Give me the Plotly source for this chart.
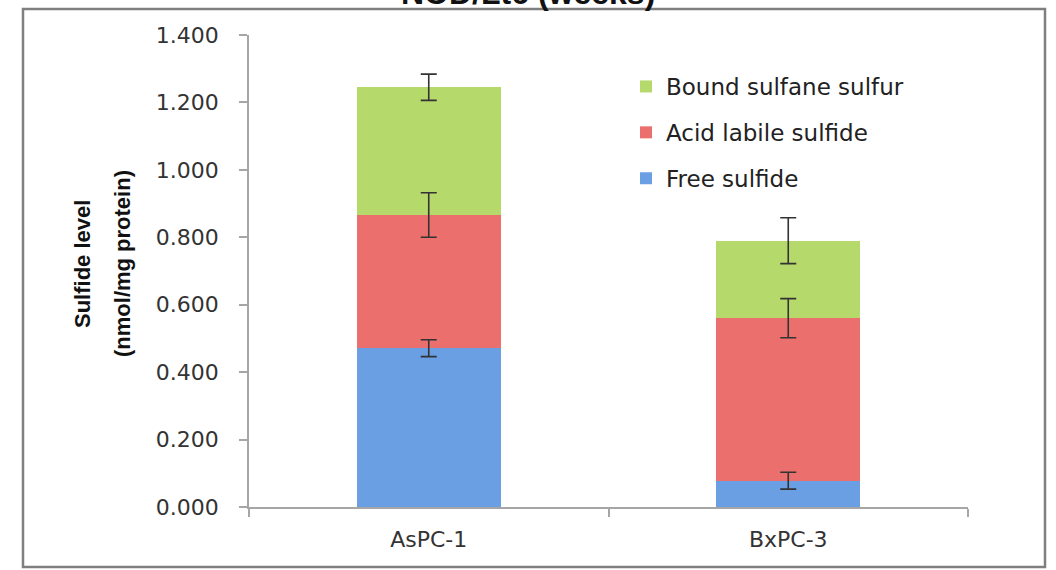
import plotly.graph_objects as go

categories = ["AsPC-1", "BxPC-3"]
free_sulfide = [0.471, 0.078]
free_err = [0.025, 0.025]
acid_labile = [0.395, 0.482]
acid_err = [0.066, 0.058]
bound_sulfane = [0.379, 0.230]
bound_err = [0.039, 0.068]
y_ticks = [0.0, 0.2, 0.4, 0.6, 0.8, 1.0, 1.2, 1.4]

series = [
    ("Free sulfide", free_sulfide, free_err, "#6a9fe4", 3),
    ("Acid labile sulfide", acid_labile, acid_err, "#eb6f6c", 2),
    ("Bound sulfane sulfur", bound_sulfane, bound_err, "#b6d96c", 1),
]

fig = go.Figure()
for name, vals, errs, color, rank in series:
    fig.add_trace(go.Bar(
        x=categories, y=vals, name=name, legendgroup=name, legendrank=rank,
        marker=dict(color=color, line=dict(width=0)),
        width=0.4,
    ))

# error bars drawn on top of all bar segments, at stacked tops
running = [0.0] * len(categories)
for name, vals, errs, color, rank in series:
    running = [r + v for r, v in zip(running, vals)]
    fig.add_trace(go.Scatter(
        x=categories, y=list(running), mode="markers",
        marker=dict(size=1, opacity=0),
        showlegend=False, hoverinfo="skip",
        error_y=dict(type="data", array=errs, visible=True,
                     color="#333333", thickness=1.6, width=8),
    ))

W, H = 1056, 570
L, R, T, B = 249, 88, 35, 63
pw, ph = W - L - R, H - T - B

def px(xp):
    return (xp - L) / pw

def py(yp):
    return (H - B - yp) / ph

fig.update_layout(
    width=W, height=H,
    margin=dict(l=L, r=R, t=T, b=B, pad=0),
    barmode="stack",
    paper_bgcolor="white", plot_bgcolor="white",
    font=dict(family="DejaVu Sans", size=20, color="#333333"),
    showlegend=True,
    legend=dict(
        x=px(626), y=py(65), xanchor="left", yanchor="top",
        traceorder="grouped", tracegroupgap=13,
        font=dict(family="DejaVu Sans", size=23, color="#222222"),
        bgcolor="rgba(0,0,0,0)",
    ),
    xaxis=dict(
        showline=True, linecolor="#a6a6a6", linewidth=1.5,
        ticks="outside", tickson="boundaries", ticklen=8,
        tickcolor="#a6a6a6", tickwidth=1.5,
        ticklabelstandoff=12,
        tickfont=dict(family="DejaVu Sans", size=22, color="#333333"),
        showgrid=False, zeroline=False,
    ),
    yaxis=dict(
        range=[0, 1.4], tickvals=y_ticks, tickformat=".3f",
        showline=True, linecolor="#a6a6a6", linewidth=1.5,
        ticks="outside", ticklen=8, tickcolor="#a6a6a6", tickwidth=1.5,
        ticklabelstandoff=16,
        tickfont=dict(family="DejaVu Sans", size=22, color="#333333"),
        showgrid=False, zeroline=False,
    ),
    shapes=[dict(
        type="rect", xref="paper", yref="paper",
        x0=px(23), x1=px(1045), y0=py(567), y1=py(9),
        line=dict(color="#7f7f7f", width=2.5), fillcolor="rgba(0,0,0,0)",
        layer="below",
    )],
    annotations=[
        dict(text="<b>Sulfide level</b>", xref="paper", yref="paper",
             x=px(82), y=py(264), textangle=-90, showarrow=False,
             xanchor="center", yanchor="middle",
             font=dict(family="Liberation Sans Narrow, Liberation Sans", size=22, color="#111111")),
        dict(text="<b>(nmol/mg protein)</b>", xref="paper", yref="paper",
             x=px(122), y=py(264), textangle=-90, showarrow=False,
             xanchor="center", yanchor="middle",
             font=dict(family="Liberation Sans Narrow, Liberation Sans", size=22, color="#111111")),
        dict(text="<b>NOD/Lt6 (weeks)</b>", xref="paper", yref="paper",
             x=px(528), y=py(13), showarrow=False,
             xanchor="center", yanchor="bottom",
             font=dict(family="Liberation Sans", size=32, color="#111111")),
    ],
)

fig.write_html("out.html", config={"displayModeBar": False},
               post_script="document.body.style.margin='0';")
